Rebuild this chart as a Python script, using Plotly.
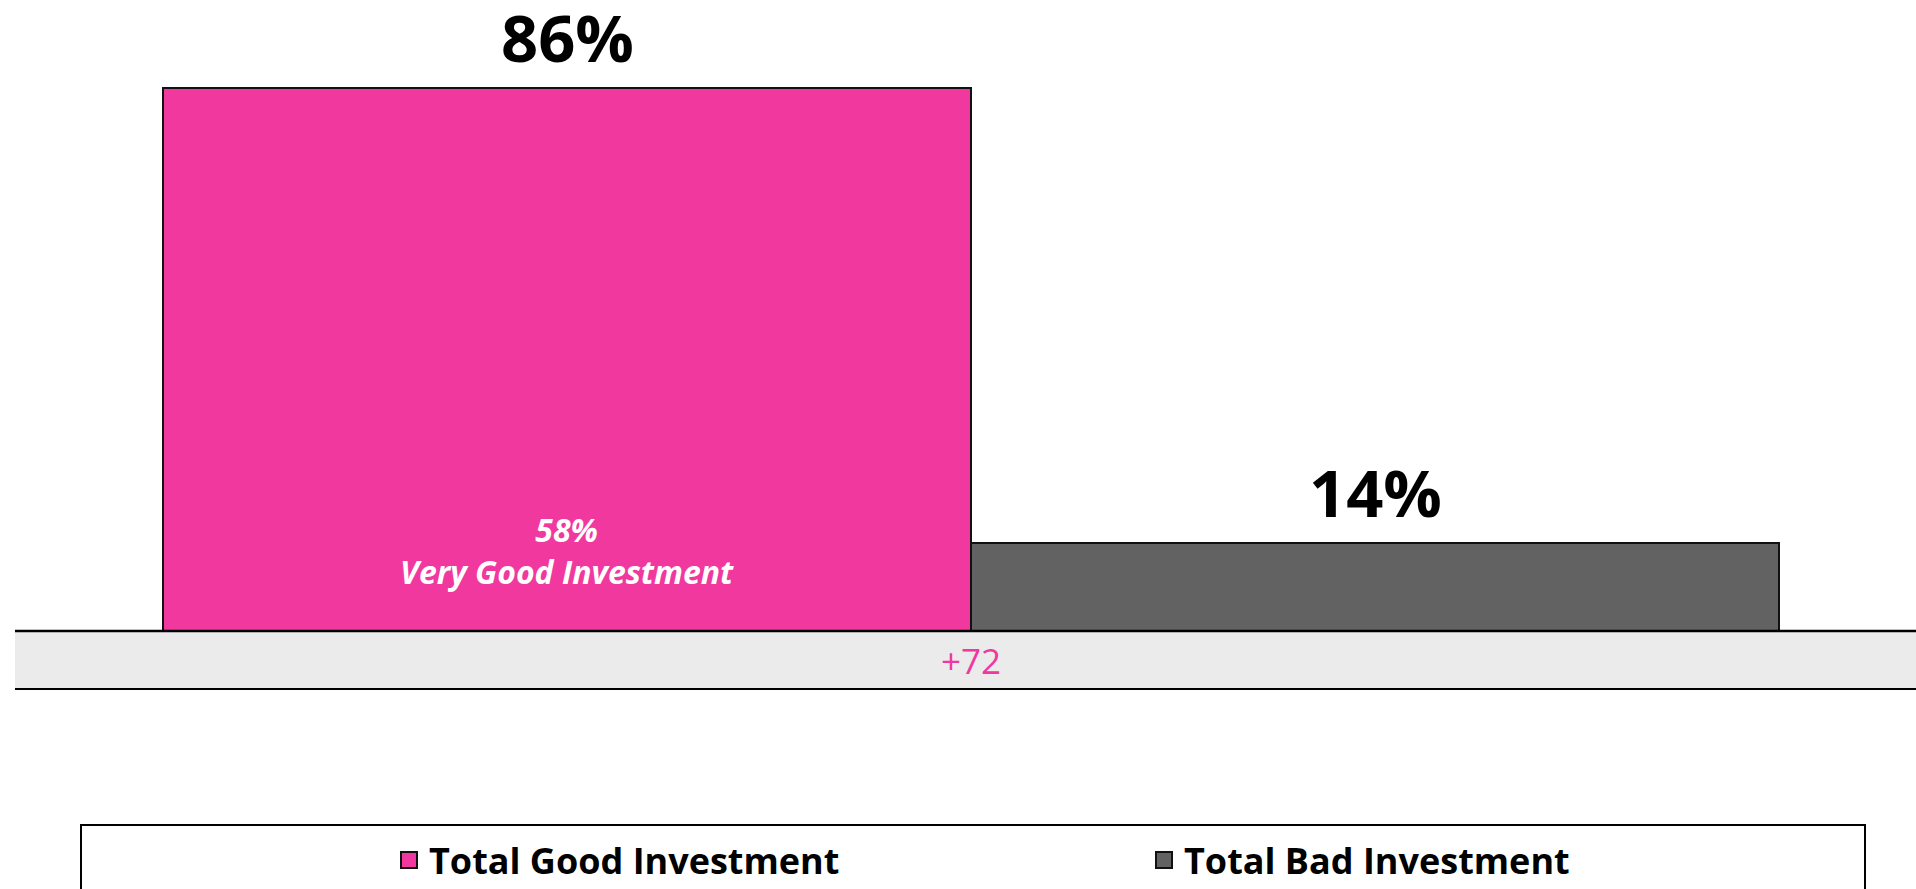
import plotly.graph_objects as go

categories = ["Total Good Investment", "Total Bad Investment"]
values = [86, 14]
bar_colors = ["#F0389F", "#626262"]
inner_label = ["58%", "Very Good Investment"]
net_label = "+72"

W, H = 1916, 889
FONT = "Open Sans"

fig = go.Figure()
for cat, val, col in zip(categories, values, bar_colors):
    fig.add_trace(go.Bar(
        x=[cat], y=[val], name=cat, width=1, showlegend=False,
        marker=dict(color=col, line=dict(color="#111111", width=2)),
    ))
    # value label above bar
    fig.add_annotation(
        x=cat, y=val, yanchor="bottom", yshift=5,
        text=f"<b>{val}%</b>", showarrow=False,
        font=dict(family=FONT, size=65, color="black"),
    )
    # legend proxy (larger square swatch)
    fig.add_trace(go.Scatter(
        x=[None], y=[None], mode="markers", name=cat,
        marker=dict(symbol="square", size=16, color=col, line=dict(color="#111111", width=2)),
    ))

# inner annotation on the good bar
fig.add_annotation(
    x=categories[0], y=0, yanchor="bottom", yshift=36,
    text=f"<b><i>{inner_label[0]}<br>{inner_label[1]}</i></b>",
    showarrow=False, font=dict(family=FONT, size=32, color="white"),
)

# band under the bars
band_h = 58 / 631
fig.add_shape(type="rect", xref="paper", yref="paper", x0=0, x1=1, y0=-band_h, y1=0,
              fillcolor="#EBEBEB", line=dict(width=0), layer="below")
fig.add_shape(type="line", xref="paper", yref="paper", x0=0, x1=1, y0=0, y1=0,
              line=dict(color="black", width=2.5))
fig.add_shape(type="line", xref="paper", yref="paper", x0=0, x1=1, y0=-band_h, y1=-band_h,
              line=dict(color="black", width=2))
fig.add_annotation(x=0.5, xref="x", y=-band_h / 2, yref="paper", yanchor="middle",
                   text=net_label, showarrow=False,
                   font=dict(family=FONT, size=35, color="#F0389F"))

# legend box
lx0 = (81 - 15) / 1901
lx1 = (1865 - 15) / 1901
ly1 = (631 - 825) / 631
fig.add_shape(type="rect", xref="paper", yref="paper", x0=lx0, x1=lx1, y0=ly1, y1=-0.5,
              fillcolor="rgba(0,0,0,0)", line=dict(color="black", width=2))

fig.update_layout(
    width=W, height=H,
    margin=dict(l=15, r=0, t=0, b=258, pad=0),
    plot_bgcolor="white", paper_bgcolor="white",
    bargap=0, barmode="overlay",
    showlegend=True,
    legend=dict(orientation="h", xref="container", yref="container",
                x=389 / W, xanchor="left", y=29 / H, yanchor="middle",
                font=dict(family=FONT, size=36, color="black", weight="bold"),
                itemsizing="trace",
                entrywidthmode="pixels", entrywidth=710,
                bgcolor="rgba(0,0,0,0)", borderwidth=0),
    xaxis=dict(visible=False, range=[-0.5 - 148 / 808, 1.5 + 137 / 808], type="category"),
    yaxis=dict(visible=False, range=[0, 100]),
    font=dict(family=FONT),
)

fig.write_html("out.html", config={"displayModeBar": False},
               post_script="document.body.style.margin='0';document.body.style.overflow='hidden';")
